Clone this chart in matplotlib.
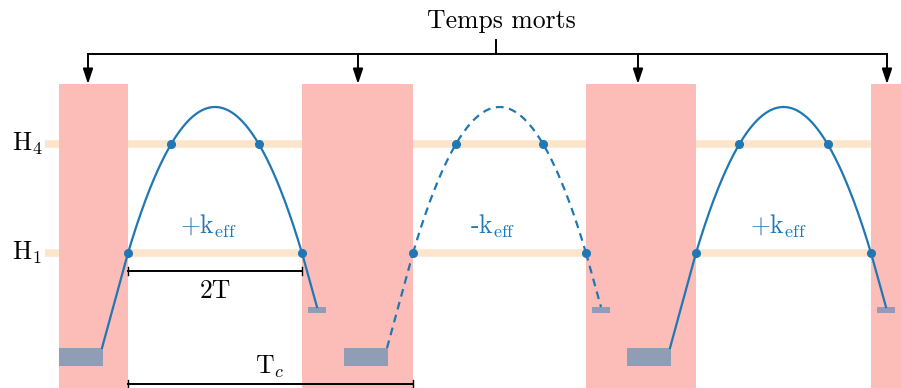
import numpy as np
import matplotlib
matplotlib.use("Agg")
import matplotlib.pyplot as plt
from matplotlib.patches import Rectangle

plt.rcParams["font.family"] = "serif"
plt.rcParams["font.serif"] = ["cmr10"]
plt.rcParams["mathtext.fontset"] = "cm"

# dead time boxes (pixel-like units, y grows downward)
box_left = [59, 302, 586, 871]
box_right = [128, 413, 696, 910]
box_top = 84
arrow_x = [88, 358, 638, 887]

# levels
level_names = [r"H$_4$", r"H$_1$"]
level_y = [144, 253]
level_span = (45, 871)

# cycles
cycle_start = [128, 413, 696]
cycle_end = [302, 586, 871]
peak_y = 107
cycle_labels = [r"+k$_{\rm eff}$", r"-k$_{\rm eff}$", r"+k$_{\rm eff}$"]
label_x = [208, 493, 778]
cycle_dashed = [False, True, False]

pink = "#fcbcb8"
peach = "#fde5cc"
slate = "#919cb7"
blue = "#1f77b4"
fs = 18.5

fig = plt.figure(figsize=(9.01, 3.88), dpi=100)
ax = fig.add_axes([0, 0, 1, 1])
ax.set_xlim(0, 901)
ax.set_ylim(388, 0)
ax.axis("off")

# level lines + labels
for name, y in zip(level_names, level_y):
    ax.plot(level_span, [y, y], color=peach, lw=5.5, solid_capstyle="butt", zorder=1)
    ax.text(27, y, name, fontsize=fs, ha="center", va="center")

# dead time boxes
for x0, x1 in zip(box_left, box_right):
    ax.add_patch(Rectangle((x0, box_top), x1 - x0, 400 - box_top, color=pink, lw=0, zorder=2))

h1, h4 = level_y[1], level_y[0]
for x0, x1, lab, lx, dashed in zip(cycle_start, cycle_end, cycle_labels, label_x, cycle_dashed):
    ls = (0, (3.5, 2.5)) if dashed else "-"
    mid = (x0 + x1) / 2
    half = (x1 - x0) / 2
    xs = np.linspace(x0, x1, 200)
    ys = peak_y + (h1 - peak_y) * ((xs - mid) / half) ** 2
    ax.plot(xs, ys, color=blue, lw=1.6, ls=ls, zorder=4)
    # rise from the big block and fall to the small one
    ax.plot([x0 - 26, x0], [348, h1], color=blue, lw=1.6, ls=ls, zorder=4)
    ax.plot([x1, x1 + 15], [h1, 307], color=blue, lw=1.6, ls=ls, zorder=4)
    ax.add_patch(Rectangle((x0 - 69, 348), 44, 18, color=slate, lw=0, zorder=3))
    ax.add_patch(Rectangle((x1 + 6, 307), 18, 6, color=slate, lw=0, zorder=3))
    # crossing dots
    dx4 = half * np.sqrt((h4 - peak_y) / (h1 - peak_y))
    ax.plot([x0, x1, mid - dx4, mid + dx4], [h1, h1, h4, h4], "o", color=blue, ms=5.5, zorder=5)
    ax.text(lx, 226, lab, color=blue, fontsize=fs, ha="center", va="center")

# dead time bracket
ax.plot([arrow_x[0], arrow_x[-1]], [54, 54], color="black", lw=1.4, solid_capstyle="projecting")
ax.plot([496, 496], [40, 54], color="black", lw=1.4)
for x in arrow_x:
    ax.annotate("", xy=(x, box_top), xytext=(x, 54),
                arrowprops=dict(arrowstyle="-|>,head_length=0.9,head_width=0.3",
                                color="black", lw=1.4, shrinkA=0, shrinkB=0,
                                mutation_scale=10))
ax.text(501, 21, "Temps morts", fontsize=fs, ha="center", va="center")

# dimension lines
def dim(x0, x1, y):
    ax.plot([x0, x1], [y, y], color="black", lw=1.4)
    ax.plot([x0, x0], [y - 4, y + 4], color="black", lw=1)
    ax.plot([x1, x1], [y - 4, y + 4], color="black", lw=1)

dim(cycle_start[0], cycle_end[0], 271)
ax.text(215, 291, "2T", fontsize=fs, ha="center", va="center")
dim(cycle_start[0], cycle_start[1], 384)
ax.text(270, 367, r"T$_c$", fontsize=fs, ha="center", va="center")

fig.savefig("out.png", dpi=100)
